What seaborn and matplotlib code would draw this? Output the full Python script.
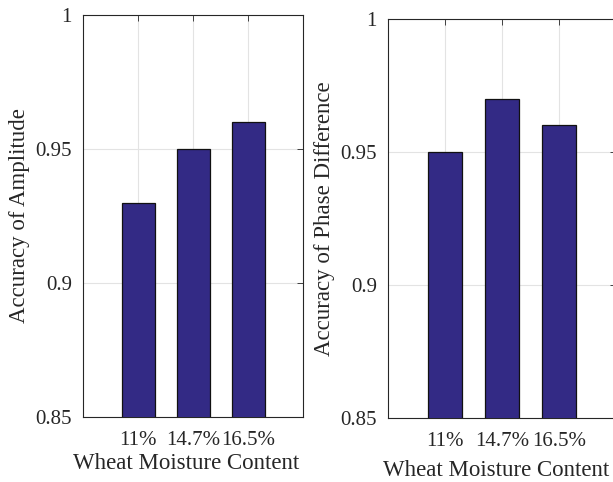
import matplotlib
matplotlib.use("Agg")
import matplotlib.pyplot as plt
import pandas as pd
import seaborn as sns

categories = ["11%", "14.7%", "16.5%"]
amplitude_acc = [0.93, 0.95, 0.96]
phase_acc = [0.95, 0.97, 0.96]
y_ticks = [0.85, 0.9, 0.95, 1.0]
y_tick_labels = ["0.85", "0.9", "0.95", "1"]

sns.set_theme(style="white")
plt.rcParams["font.family"] = ["Liberation Serif", "DejaVu Serif"]

BAR_COLOR = "#332a85"
TICK_FS = 15
LABEL_FS = 16.5

fig = plt.figure(figsize=(6.13, 4.82), dpi=100)
ax1 = fig.add_axes([83 / 613, 1 - 417 / 482, 220 / 613, 402 / 482])
ax2 = fig.add_axes([388 / 613, 1 - 418 / 482, 228 / 613, 399 / 482])


def draw(ax, values, ylabel):
    df = pd.DataFrame({"cat": categories, "val": values})
    sns.barplot(data=df, x="cat", y="val", ax=ax, color=BAR_COLOR, width=0.6,
                saturation=1, edgecolor="#111111", linewidth=0.9, zorder=3)
    ax.set_xlim(-1, 3)
    ax.set_ylim(0.85, 1.0)
    ax.set_yticks(y_ticks)
    ax.set_yticklabels(y_tick_labels)
    ax.grid(True, color="#e3e3e3", linewidth=0.8, zorder=0)
    ax.set_axisbelow(True)
    ax.tick_params(direction="in", top=True, right=True, length=4,
                   labelsize=TICK_FS, colors="#262626", width=0.6)
    ax.tick_params(axis="x", pad=10)
    ax.tick_params(axis="y", pad=8)
    for spine in ax.spines.values():
        spine.set_color("#262626")
        spine.set_linewidth(0.8)
    ax.set_xlabel("Wheat Moisture Content", fontsize=LABEL_FS, color="#262626")
    ax.set_ylabel(ylabel, fontsize=LABEL_FS, color="#262626")


draw(ax1, amplitude_acc, "Accuracy of Amplitude")
draw(ax2, phase_acc, "Accuracy of Phase Difference")

ax1.xaxis.set_label_coords(0.47, -0.09)
ax1.yaxis.set_label_coords(-0.24, 0.5)
ax2.xaxis.set_label_coords(0.475, -0.105)
ax2.yaxis.set_label_coords(-0.232, 0.5)

fig.savefig("out.png", dpi=100)
